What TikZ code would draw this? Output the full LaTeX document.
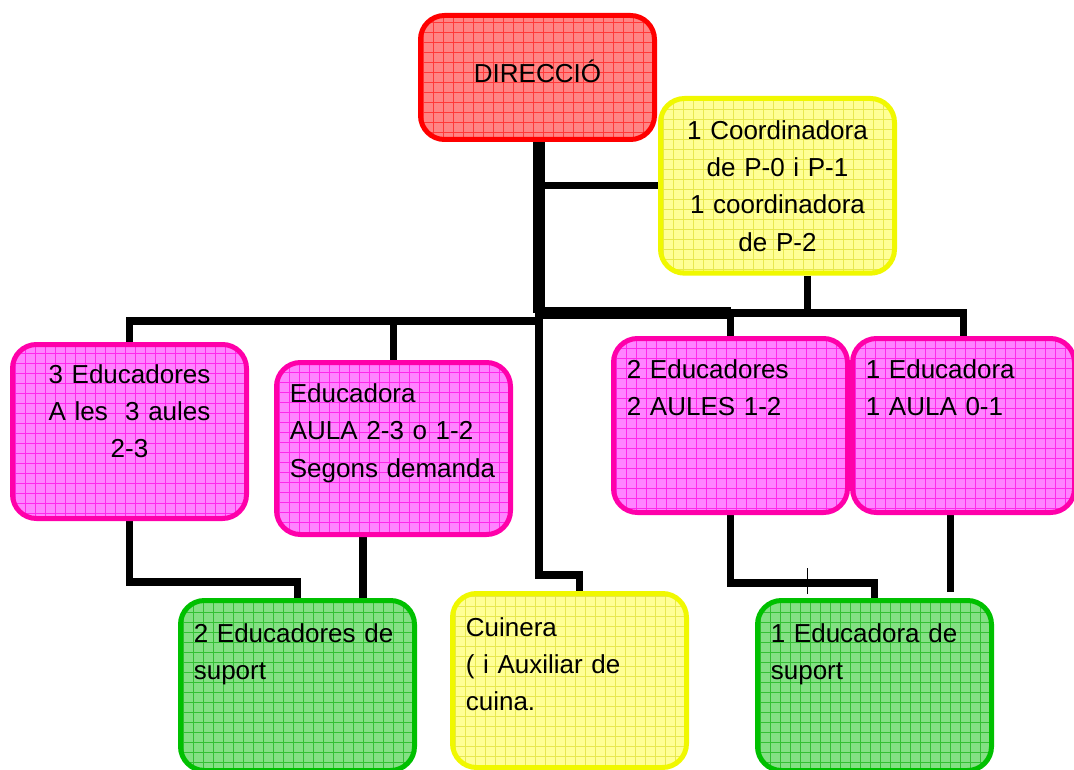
\documentclass[tikz,border=0pt]{standalone}
\usepackage{fontspec}
\setmainfont{Liberation Sans}
\usepackage{xcolor}
\usetikzlibrary{positioning,backgrounds}

\definecolor{dirline}{HTML}{FF0000}
\definecolor{dirfill}{HTML}{FF8484}
\definecolor{dirgrid}{HTML}{FF3838}
\definecolor{yelline}{HTML}{F0F800}
\definecolor{yelfill}{HTML}{FFFF96}
\definecolor{yelgrid}{HTML}{E8E850}
\definecolor{pinkline}{HTML}{FF00AA}
\definecolor{pinkfill}{HTML}{FF84FF}
\definecolor{pinkgrid}{HTML}{FF28EC}
\definecolor{greenline}{HTML}{00C000}
\definecolor{greenfill}{HTML}{84E084}
\definecolor{greengrid}{HTML}{34C034}

\begin{document}
\begin{tikzpicture}[
    x=0.75pt, y=-0.75pt,
    card/.style={rectangle, rounded corners=18pt, line width=3.75pt, anchor=north west,
        inner xsep=10pt, inner ysep=0pt, text width=155.5pt, align=left,
        text height=30pt, text depth=100.5pt, font=\fontsize{19.5pt}{28pt}\selectfont},
    gridfill/.style={path picture={\draw[line width=0.6pt, #1]
        (path picture bounding box.south west) grid[step=7.5pt] (path picture bounding box.north east);}},
    redcard/.style={card, draw=dirline, fill=dirfill, gridfill=dirgrid},
    yellowcard/.style={card, draw=yelline, fill=yelfill, gridfill=yelgrid},
    pinkcard/.style={card, draw=pinkline, fill=pinkfill, gridfill=pinkgrid},
    greencard/.style={card, draw=greenline, fill=greenfill, gridfill=greengrid},
    link/.style={line width=5.5pt},
    trunk/.style={line width=9pt}
]
    \useasboundingbox (0,0) rectangle (1074,770);

    % Direction and coordination
    \node[redcard, align=center, text height=50pt, text depth=43pt] (dir) at (418,13) {DIRECCIÓ};
    \node[yellowcard, align=center, text height=30.5pt] (coord) at (658,96) {1 Coordinadora\\de P-0 i P-1\\1 coordinadora\\de P-2};

    % Classroom educators
    \node[pinkcard, align=center, text height=29pt, text depth=101.5pt] (e23) at (10,342) {3 Educadores\\A les \ 3 aules\\2-3};
    \node[pinkcard, text depth=99pt] (edu) at (274,360) {Educadora\\AULA 2-3 o 1-2\\Segons demanda};
    \node[pinkcard] (e12) at (611,336) {2 Educadores\\2 AULES 1-2};
    \node[pinkcard, text width=146.5pt] (e01) at (850,336) {1 Educadora\\1 AULA 0-1};

    % Support and kitchen
    \node[greencard, text height=31.5pt, text depth=96pt] (sup1) at (178,598) {2 Educadores de\\suport};
    \node[yellowcard, text height=32pt, text depth=98.5pt] (cui) at (450,591) {Cuinera\\( i Auxiliar de\\cuina.};
    \node[greencard, text height=31.5pt, text depth=96pt] (sup2) at (755,598) {1 Educadora de\\suport};

    % Links
    \begin{scope}[on background layer]
    \coordinate (hub) at (539,313);
    \coordinate (lhub) at (539,321);
    \draw[trunk] (dir.south -| hub) -- (hub);
    \draw[link] (coord.west) -- (coord.west -| hub);
    \draw[trunk] (hub) -- (hub -| e12.north);
    \draw[link] (hub -| e12.north) -| (e01.north);
    \draw[link] ([xshift=22.5pt]coord.south) -- ([xshift=22.5pt]coord.south |- hub);
    \draw[link] (e12.north) -- (e12.north |- hub);
    \draw[link] (e23.north) |- (lhub);
    \draw[link] (edu.north) -- (edu.north |- lhub);
    \draw[link] (hub) -- ++(0,262) -| ([xshift=7.5pt]cui.north);
    \draw[link] (e23.south) -- ++(0,61) -| (sup1.north);
    \draw[link] ([xshift=-23pt]edu.south) -- ([xshift=-23pt]edu.south |- sup1.north);
    \draw[link] (e12.south) -- ++(0,68) -| (sup2.north);
    \draw[link] ([xshift=-10pt]e01.south) -- ++(0,77);
    \draw[line width=0.8pt] ([xshift=-50.6pt, yshift=3pt]sup2.north) -- ++(0,-26);
    \end{scope}
\end{tikzpicture}
\end{document}
